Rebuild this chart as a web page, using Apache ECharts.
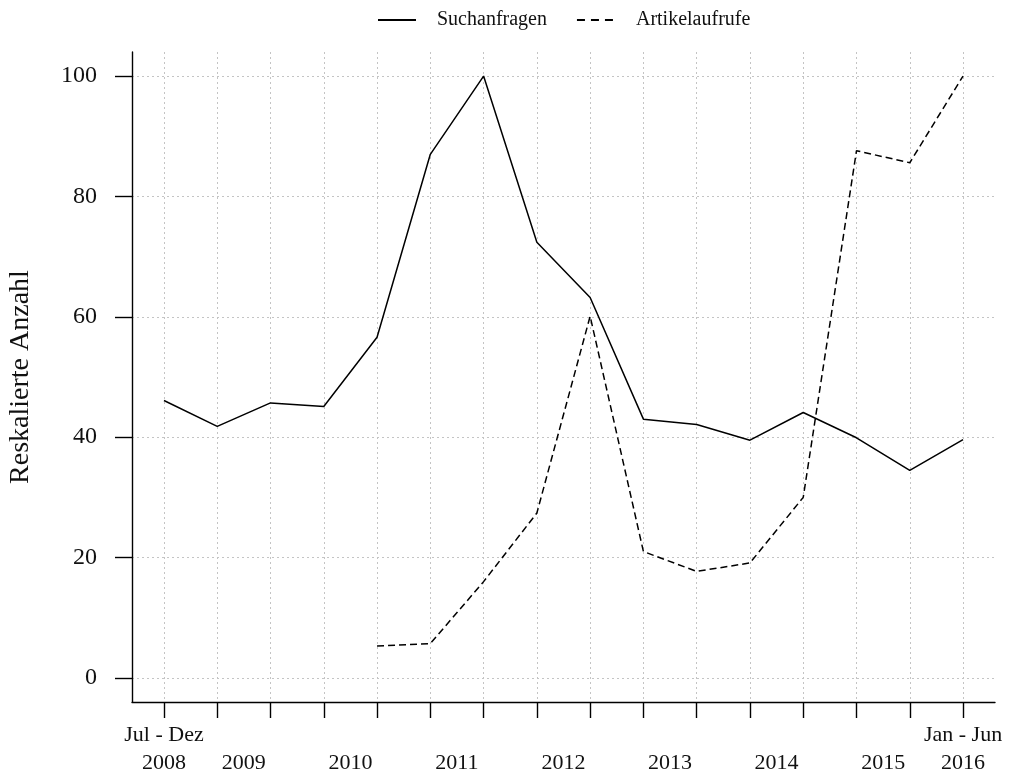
<!DOCTYPE html>
<html>
<head>
<meta charset="utf-8">
<script src="https://cdn.jsdelivr.net/npm/echarts@6/dist/echarts.min.js"></script>
<style>
  html, body { margin: 0; padding: 0; background: #fff; }
  #chart { width: 1010px; height: 777px; }
</style>
</head>
<body>
<div id="chart"></div>
<script>
// Halbjahre, Jul - Dez 2008 bis Jan - Jun 2016
const periods = [
  "Jul - Dez 2008", "Jan - Jun 2009", "Jul - Dez 2009", "Jan - Jun 2010",
  "Jul - Dez 2010", "Jan - Jun 2011", "Jul - Dez 2011", "Jan - Jun 2012",
  "Jul - Dez 2012", "Jan - Jun 2013", "Jul - Dez 2013", "Jan - Jun 2014",
  "Jul - Dez 2014", "Jan - Jun 2015", "Jul - Dez 2015", "Jan - Jun 2016"
];
const suchanfragen = [46.1, 41.8, 45.7, 45.1, 56.6, 87.0, 100, 72.4,
  63.2, 43.0, 42.1, 39.5, 44.1, 39.9, 34.5, 39.6];
const artikelaufrufe = [null, null, null, null, 5.3, 5.7, 16.0, 27.4,
  60.1, 21.0, 17.7, 19.1, 30.0, 87.6, 85.6, 100];
const yTicks = [0, 20, 40, 60, 80, 100];

const FONT = "'Liberation Serif', 'Times New Roman', serif";

// Jahreslabels: mittig zwischen den Halbjahren eines Jahres
const years = {};
periods.forEach((p, i) => {
  const y = p.slice(-4);
  (years[y] = years[y] || []).push(i);
});
const xLabels = Object.keys(years).map((y) => {
  const idx = years[y];
  const pos = idx.reduce((a, b) => a + b, 0) / idx.length;
  const text = idx.length === 1 ? periods[idx[0]].slice(0, -5) + "\n" + y : "\n" + y;
  return { pos, text };
});

const toPairs = (arr) =>
  arr.map((v, i) => [i, v]).filter((d) => d[1] !== null);

const chart = echarts.init(document.getElementById("chart"));
const gridLine = { color: "#c4c4c4", width: 1, type: [2, 3] };

const option = {
  animation: false,
  backgroundColor: "#fff",
  textStyle: { fontFamily: FONT, color: "#111" },
  legend: {
    left: 377,
    top: 10,
    padding: 0,
    itemWidth: 38,
    itemHeight: 14,
    itemGap: 29,
    itemStyle: { opacity: 0 },
    textStyle: { fontFamily: FONT, fontSize: 20, color: "#111", padding: [0, 0, 0, 16] },
    data: [
      { name: "Suchanfragen" },
      { name: "Artikelaufrufe", lineStyle: { type: [8, 6] } }
    ]
  },
  grid: {
    left: 132,
    right: 15,
    top: 52,
    bottom: 75,
    outerBoundsMode: "none"
  },
  xAxis: {
    type: "value",
    min: -0.6,
    max: periods.length - 1 + 0.6,
    axisLine: { show: true, onZero: false, lineStyle: { color: "#000", width: 1.4 } },
    axisTick: {
      show: true,
      length: 16,
      customValues: periods.map((p, i) => i),
      lineStyle: { color: "#000", width: 1.4 }
    },
    axisLabel: {
      customValues: xLabels.map((l) => l.pos),
      formatter: (v) => {
        const l = xLabels.find((d) => Math.abs(d.pos - v) < 0.01);
        return l ? l.text : "";
      },
      margin: 19,
      fontFamily: FONT,
      fontSize: 22,
      lineHeight: 28,
      color: "#111",
      align: "center"
    },
    splitLine: { show: true, lineStyle: gridLine }
  },
  yAxis: {
    type: "value",
    min: -4,
    max: 104,
    name: "Reskalierte Anzahl",
    nameLocation: "middle",
    nameGap: 97,
    nameTextStyle: { fontFamily: FONT, fontSize: 28, color: "#111" },
    axisLine: { show: true, onZero: false, lineStyle: { color: "#000", width: 1.4 } },
    axisTick: {
      show: true,
      length: 17,
      customValues: yTicks,
      lineStyle: { color: "#000", width: 1.4 }
    },
    axisLabel: {
      customValues: yTicks,
      margin: 35,
      fontFamily: FONT,
      fontSize: 24,
      color: "#111"
    },
    splitLine: { show: true, lineStyle: gridLine }
  },
  series: [
    {
      name: "Suchanfragen",
      type: "line",
      data: toPairs(suchanfragen),
      symbol: "none",
      lineStyle: { color: "#000", width: 1.5, type: "solid" },
      itemStyle: { color: "#000" }
    },
    {
      name: "Artikelaufrufe",
      type: "line",
      data: toPairs(artikelaufrufe),
      symbol: "none",
      lineStyle: { color: "#000", width: 1.5, type: [7, 4] },
      itemStyle: { color: "#000" }
    }
  ]
};

chart.setOption(option);
window.addEventListener("resize", () => {
  chart.resize();
});
</script>
</body>
</html>
